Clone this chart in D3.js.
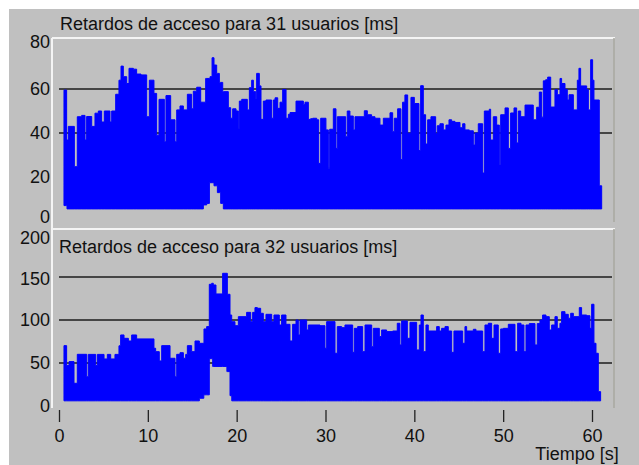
<!DOCTYPE html>
<html>
<head>
<meta charset="utf-8">
<script src="https://cdn.jsdelivr.net/npm/d3@7"></script>
<style>
  body { margin: 0; background: #fff; }
  svg text { font-family: "Liberation Sans", Arial, sans-serif; fill: #111; }
</style>
</head>
<body>
<svg id="chart" width="639" height="465"></svg>
<script>
(function() {

// ---- data: [time s, delay ms], each value holds until the next time
const xTicks = [0, 10, 20, 30, 40, 50, 60];
const yTicks31 = [0, 20, 40, 60, 80];
const yTicks32 = [0, 50, 100, 150, 200];
const grid31 = [40, 60];
const grid32 = [50, 100, 150];

const upper31 = [
  [0.56, 59.5], [0.86, 36.8], [1.05, 43], [1.73, 24.7], [2.06, 47.4], [2.55, 48], [2.93, 36.8],
  [3.11, 47.5], [3.68, 43], [4.05, 49], [4.43, 50], [4.80, 45], [5.10, 50], [5.74, 45], [5.93, 50],
  [6.38, 57.6], [6.75, 64], [6.98, 70.4], [7.24, 65.6], [7.62, 62.5], [7.88, 69.4], [8.37, 69],
  [8.74, 66.8], [9.23, 66.4], [9.87, 47.4], [10.17, 64], [10.69, 58], [10.99, 39], [11.26, 55.3],
  [11.86, 36], [12.04, 57], [12.57, 46], [13.06, 36], [13.25, 50.5], [13.62, 52.3], [14.00, 50.5],
  [14.45, 57.6], [14.93, 51], [15.12, 59], [15.50, 60.8], [15.95, 54], [16.51, 64.8], [17.00, 65.6],
  [17.23, 74.2], [17.45, 70.9], [17.75, 67.1], [18.05, 63], [18.43, 58.8], [19.06, 51.5],
  [19.33, 46.7], [19.55, 51], [19.93, 50], [20.19, 42], [20.30, 54.5], [20.57, 55.3], [21.20, 50.5],
  [21.43, 60.6], [21.69, 64], [21.88, 58.8], [22.14, 55.5], [22.25, 67.1], [22.55, 61.4],
  [22.74, 46.2], [23.00, 54.5], [23.30, 55], [23.94, 46.7], [24.13, 55], [24.32, 56], [24.62, 51.2],
  [24.88, 54], [25.18, 59.8], [25.56, 46.7], [25.82, 48.5], [26.01, 49.3], [26.68, 54.5],
  [27.51, 53], [27.69, 54], [28.07, 46.2], [28.33, 46.5], [28.56, 46.7], [29.01, 46], [29.23, 26.2],
  [29.46, 46.7], [30.05, 41.4], [30.32, 24], [30.47, 41.7], [30.88, 51], [31.18, 33], [31.33, 47.4],
  [32.27, 38.3], [32.45, 50], [32.75, 47.7], [33.13, 41.4], [33.32, 47.4], [34.37, 50.1],
  [34.71, 48.3], [35.19, 47.4], [35.57, 46.7], [36.13, 43.6], [36.51, 46.7], [37.26, 49.2],
  [37.56, 40.6], [37.74, 46.7], [38.12, 51], [38.49, 27.9], [38.68, 54], [38.94, 57.3],
  [39.25, 39.9], [39.62, 56.2], [40.00, 53.4], [40.52, 32], [40.71, 61.5], [41.01, 48.3],
  [41.27, 35], [41.50, 46], [41.87, 47.4], [42.40, 39.7], [42.58, 43.3], [42.88, 44.2],
  [43.26, 41.4], [43.56, 43.6], [43.90, 46], [44.20, 45.3], [44.57, 44.8], [45.14, 42.4],
  [45.44, 44.2], [45.70, 41.4], [46.19, 41], [46.64, 34.5], [46.83, 40], [47.20, 44.2],
  [47.69, 21.8], [47.88, 50], [48.44, 50.8], [48.59, 36.8], [48.89, 47.4], [49.27, 43.6],
  [49.57, 25.6], [49.72, 48.3], [50.21, 51.4], [50.58, 33], [50.84, 49.1], [51.22, 51.4],
  [51.52, 35.5], [51.71, 50], [51.97, 47.4], [52.46, 52.7], [53.39, 46], [53.77, 51.7],
  [54.07, 58.6], [54.33, 47.2], [54.52, 63.7], [54.78, 64.2], [55.01, 65.4], [55.35, 51.8],
  [55.83, 59.7], [56.10, 57.4], [56.40, 64.8], [56.58, 62.5], [56.96, 59.8], [57.22, 55],
  [57.41, 57.4], [57.90, 50.5], [58.35, 64], [58.53, 69.4], [58.72, 61.4], [59.40, 59.7],
  [59.59, 50.5], [59.85, 73.3], [60.07, 64], [60.22, 55], [60.82, 16]
];
const lower31 = [
  [0.56, 7], [0.9, 5.5], [16.25, 7.3], [16.63, 8], [16.93, 17.4], [17.45, 16], [17.83, 12.9],
  [18.2, 8], [18.5, 5.5]
];
const end31 = 61.09;

const upper32 = [
  [0.56, 70.2], [0.86, 47], [1.13, 51.6], [1.69, 26.4], [2.06, 60.1], [3.12, 34], [3.30, 60],
  [4.13, 47], [4.32, 60], [5.07, 54.7], [5.44, 60], [5.82, 54.7], [6.30, 60], [6.75, 70],
  [6.94, 82.6], [7.32, 78.7], [7.81, 75.6], [8.18, 82.6], [8.74, 78], [10.69, 67.1], [10.88, 63.2],
  [11.29, 52.4], [11.56, 70.2], [12.50, 55.5], [13.06, 34], [13.25, 60.1], [13.62, 62],
  [14.00, 55.5], [14.26, 60], [14.45, 70.2], [14.93, 63.2], [15.31, 75.6], [15.80, 72.9],
  [16.32, 89.6], [16.62, 92.3], [16.92, 141.5], [17.19, 142.7], [17.37, 140.7], [17.67, 130.3],
  [18.42, 154.3], [18.95, 129.9], [19.25, 105.8], [19.44, 98], [19.81, 93.4], [20.19, 103.9],
  [21.12, 108.9], [21.58, 98], [21.80, 108.9], [22.06, 114.4], [22.33, 113.6], [22.70, 107.8],
  [23.00, 98], [23.30, 106.6], [23.94, 98], [24.20, 105.8], [24.80, 94.2], [25.06, 105.8],
  [25.55, 95], [26.00, 75.6], [26.30, 95], [26.68, 100], [26.94, 82.6], [27.13, 100],
  [27.88, 88.4], [28.07, 94.2], [29.38, 93.4], [29.94, 67.1], [30.13, 98.1], [31.07, 61.3],
  [31.33, 92.3], [31.82, 91.1], [32.19, 94.2], [33.06, 62.4], [33.24, 90.3], [33.62, 92.3],
  [34.18, 63.2], [34.45, 94.2], [35.20, 69], [35.38, 90.3], [36.06, 80.7], [36.32, 88.4],
  [36.88, 86.5], [37.56, 87.2], [38.08, 96.2], [38.38, 71], [38.57, 98.9], [39.21, 78.7],
  [39.51, 97.3], [40.26, 65.2], [40.56, 94.2], [40.75, 105.8], [41.01, 63.2], [41.31, 94.2],
  [41.57, 87.2], [42.51, 92.3], [42.81, 87.2], [43.07, 90.3], [43.45, 92.3], [43.82, 87.2],
  [44.20, 62.4], [44.46, 87.2], [45.44, 72.9], [45.70, 92.3], [45.89, 87.2], [46.64, 89.2],
  [46.94, 87.2], [47.69, 63.2], [47.95, 94.2], [48.33, 96.2], [48.70, 78.7], [48.97, 94.2],
  [49.45, 61.3], [49.72, 89.6], [50.02, 90.3], [50.58, 95], [51.33, 63.2], [51.63, 96.2],
  [52.01, 94.2], [52.34, 63.2], [52.57, 94.2], [52.94, 95.8], [53.58, 71], [53.84, 95.8],
  [54.14, 100], [54.44, 105.8], [54.82, 103.9], [55.19, 88.4], [55.46, 94.2], [55.83, 103.9],
  [56.09, 90.3], [56.39, 96.2], [56.58, 109.7], [56.96, 106.6], [57.33, 102], [57.60, 107.8],
  [57.90, 103.9], [58.57, 114.4], [58.83, 105.8], [59.40, 105], [59.77, 90.3], [59.96, 118.3],
  [60.22, 72.9], [60.45, 61.3], [60.71, 16.7]
];
const lower32 = [
  [0.56, 6], [15.8, 9], [16.3, 13], [16.92, 55], [17.3, 46], [18.9, 40], [19.25, 12], [19.45, 6]
];
const end32 = 60.97;

// ---- layout
const svg = d3.select("#chart");
const W = 639, H = 465;
const x = d3.scaleLinear().domain([0, 60]).range([59, 592]);

svg.append("rect").attr("x", 9).attr("y", 9).attr("width", W - 9).attr("height", H - 9)
    .attr("fill", "#c0c0c0");

const panels = [
  { title: "Retardos de acceso para 31 usuarios [ms]", upper: upper31, lower: lower31, end: end31,
    ticks: yTicks31, grid: grid31, y: d3.scaleLinear().domain([0, 80]).range([221, 45]),
    top: 38, left: 229, bottom: 222, titleX: 60, titleY: 30, labelShift: { 0: -4, 80: -3 } },
  { title: "Retardos de acceso para 32 usuarios [ms]", upper: upper32, lower: lower32, end: end32,
    ticks: yTicks32, grid: grid32, y: d3.scaleLinear().domain([0, 200]).range([406, 234]),
    top: 229, left: 408, bottom: 408, titleX: 59, titleY: 253, labelShift: { 200: 4, 150: 2 } }
];

// value of a step series at time t
function stepAt(series, t) {
  let v = series[0][1];
  for (const d of series) { if (d[0] <= t) v = d[1]; else break; }
  return v;
}

function buildBand(upper, lower, end) {
  const times = Array.from(new Set(upper.map(d => d[0]).concat(lower.map(d => d[0]))))
      .sort((a, b) => a - b);
  const rows = times.map(t => ({ t: t, hi: stepAt(upper, t), lo: stepAt(lower, t) }));
  const last = rows[rows.length - 1];
  rows.push({ t: end, hi: last.hi, lo: last.lo });
  return rows;
}

panels.forEach(function(p) {
  const g = svg.append("g");

  // raised frame: light top/left, darker right
  g.append("line").attr("x1", 52).attr("x2", 615).attr("y1", p.top).attr("y2", p.top)
      .attr("stroke", "#f4f4f4").attr("stroke-width", 2);
  g.append("line").attr("x1", 52).attr("x2", 52).attr("y1", p.top).attr("y2", p.left)
      .attr("stroke", "#f4f4f4").attr("stroke-width", 2);
  g.append("line").attr("x1", 614).attr("x2", 614).attr("y1", p.top).attr("y2", p.bottom)
      .attr("stroke", "#a8a8a0").attr("stroke-width", 1.5);

  // horizontal grid lines
  g.append("g").selectAll("line")
      .data(p.grid)
      .enter().append("line")
      .attr("x1", 59).attr("x2", 612)
      .attr("y1", d => p.y(d)).attr("y2", d => p.y(d))
      .attr("stroke", "#1c1c1c").attr("stroke-width", 1.6);

  // dense delay trace, drawn as its min/max band
  const band = buildBand(p.upper, p.lower, p.end);
  const area = d3.area()
      .curve(d3.curveStepAfter)
      .x(d => x(d.t))
      .y0(d => p.y(d.lo))
      .y1(d => p.y(d.hi));
  g.append("path")
      .datum(band)
      .attr("d", area)
      .attr("fill", "#0000ff")
      .attr("stroke", "#0000ff")
      .attr("stroke-width", 1)
      .attr("stroke-linejoin", "miter");

  // y labels
  const yAxis = g.append("g")
      .attr("transform", "translate(52,0)")
      .call(d3.axisLeft(p.y).tickValues(p.ticks).tickSize(0).tickPadding(2));
  yAxis.select(".domain").remove();
  yAxis.selectAll("text")
      .attr("font-size", 18)
      .attr("font-family", "'Liberation Sans', Arial, sans-serif")
      .attr("fill", "#111")
      .attr("transform", d => "translate(0," + (p.labelShift[d] || 0) + ")");

  g.append("text")
      .attr("x", p.titleX).attr("y", p.titleY)
      .attr("font-size", 18)
      .text(p.title);
});

// x axis under the lower panel
const xAxis = svg.append("g")
    .attr("transform", "translate(0,410)")
    .call(d3.axisBottom(x).tickValues(xTicks).tickSize(12).tickPadding(7));
xAxis.select(".domain").remove();
xAxis.selectAll("line").attr("stroke", "#222").attr("stroke-width", 1.3);
xAxis.selectAll("text")
    .attr("font-size", 18)
    .attr("font-family", "'Liberation Sans', Arial, sans-serif")
    .attr("fill", "#111");

svg.append("text")
    .attr("x", 577).attr("y", 460)
    .attr("text-anchor", "middle")
    .attr("font-size", 18)
    .text("Tiempo [s]");

})();
</script>
</body>
</html>
